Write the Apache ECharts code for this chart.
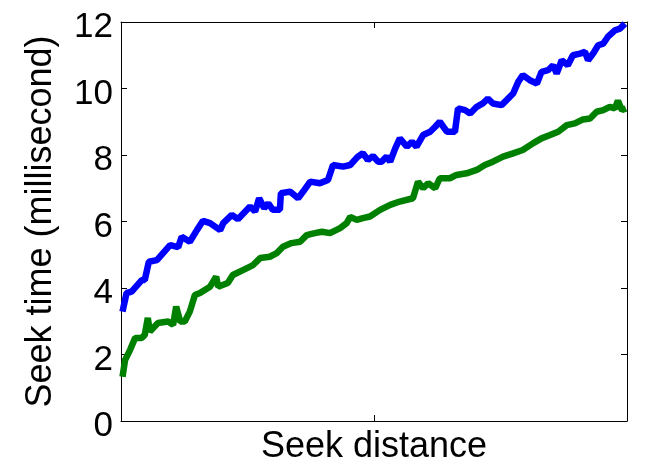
<!DOCTYPE html>
<html>
<head>
<meta charset="utf-8">
<script src="https://cdn.jsdelivr.net/npm/echarts@6/dist/echarts.min.js"></script>
<style>html,body{margin:0;padding:0;background:#fff}#c{width:646px;height:466px}</style>
</head>
<body>
<div id="c"></div>
<script>
// Seek distance (relative, 0-100) and seek time (ms)
var blueDist = [0.3,1.1,2.1,4.1,4.7,5.5,7.1,9.7,11.3,12.0,13.6,15.0,16.2,17.6,19.6,20.2,21.9,23.1,25.5,26.5,27.3,28.3,29.1,30.0,31.4,31.6,33.4,35.0,36.0,37.4,39.3,40.9,41.9,43.9,45.3,46.8,47.8,48.8,49.8,50.8,51.5,52.5,53.2,54.2,55.1,56.5,57.5,58.4,59.7,61.1,62.1,63.0,64.4,66.0,66.6,68.0,69.0,70.3,71.5,72.5,73.5,75.2,76.2,77.5,78.5,79.4,80.8,82.2,83.1,84.4,85.4,86.1,87.1,88.3,89.3,90.7,91.7,92.3,93.3,94.3,95.3,96.2,97.6,98.6,99.6];
var blueTime = [3.29,3.85,3.89,4.24,4.24,4.79,4.84,5.29,5.23,5.54,5.39,5.74,6.02,5.95,5.74,5.95,6.2,6.07,6.45,6.3,6.7,6.4,6.55,6.35,6.35,6.85,6.9,6.7,6.9,7.2,7.15,7.25,7.7,7.65,7.7,7.95,8.05,7.85,7.97,7.8,7.8,7.95,7.8,8.2,8.5,8.25,8.4,8.25,8.6,8.7,8.85,9.0,8.7,8.7,9.4,9.35,9.25,9.45,9.55,9.7,9.55,9.5,9.65,9.85,10.2,10.4,10.25,10.15,10.5,10.55,10.7,10.45,10.85,10.7,11.0,11.05,11.1,10.85,11.05,11.3,11.35,11.55,11.75,11.8,11.95];
var greenDist = [0.3,0.8,1.8,2.8,4.1,4.7,5.3,5.7,7.3,9.3,10.3,10.9,11.7,12.6,13.6,14.6,15.6,17.6,18.8,19.2,21.1,22.1,24.1,26.1,27.5,29.4,30.8,32.0,33.7,35.4,36.7,38.3,39.7,41.3,43.3,44.6,45.3,46.6,47.8,49.2,51.2,53.2,55.1,57.7,58.7,59.7,60.7,62.1,63.0,65.0,66.3,68.3,70.3,71.9,73.5,75.5,77.5,79.4,81.4,83.1,84.8,86.4,88.1,89.7,91.3,92.7,94.0,95.3,96.6,97.6,98.2,99.0,99.8];
var greenTime = [1.33,1.83,2.14,2.5,2.5,2.59,3.1,2.69,2.95,2.99,2.89,3.44,2.99,2.99,3.29,3.79,3.85,4.04,4.34,4.04,4.15,4.39,4.54,4.69,4.9,4.94,5.05,5.24,5.35,5.39,5.59,5.65,5.69,5.65,5.8,5.95,6.14,6.05,6.1,6.15,6.35,6.5,6.6,6.7,7.2,7.0,7.15,7.0,7.3,7.3,7.4,7.45,7.55,7.7,7.8,7.95,8.05,8.15,8.35,8.5,8.6,8.7,8.9,8.95,9.07,9.1,9.3,9.35,9.45,9.4,9.63,9.35,9.4];
var yTicks = [0,2,4,6,8,10,12];

function pairs(xs, ys){ return xs.map(function(x,i){ return [x, ys[i]]; }); }

var font = "'Liberation Sans', Arial, Helvetica, sans-serif";
var chart = echarts.init(document.getElementById('c'));
var lineStyleAxis = {show:true, onZero:false, lineStyle:{color:'#000', width:1}};
var tickIn = {show:true, inside:true, length:6, lineStyle:{color:'#000', width:1}};
chart.setOption({
  animation:false,
  backgroundColor:'#fff',
  grid:{left:121, top:22, width:506, height:399, containLabel:false, outerBoundsMode:'none'},
  xAxis:[
    {type:'value', position:'bottom', min:0, max:100, interval:50,
     axisLine:lineStyleAxis, axisTick:tickIn, axisLabel:{show:false}, splitLine:{show:false},
     name:'Seek distance', nameLocation:'middle', nameGap:8,
     nameTextStyle:{fontFamily:font, fontSize:36, color:'#000', verticalAlign:'top'}},
    {type:'value', position:'top', min:0, max:100, interval:50,
     axisLine:lineStyleAxis, axisTick:tickIn, axisLabel:{show:false}, splitLine:{show:false}}
  ],
  yAxis:[
    {type:'value', position:'left', min:0, max:12, interval:2,
     axisLine:lineStyleAxis, axisTick:tickIn, splitLine:{show:false},
     axisLabel:{show:true, margin:8, fontFamily:font, fontSize:35, color:'#000',
       formatter:function(v){ return yTicks.indexOf(v) >= 0 ? '{a|' + v + '}' : ''; },
       rich:{a:{fontFamily:font, fontSize:35, color:'#000', padding:[11,0,0,0]}}},
     name:'Seek time (millisecond)', nameLocation:'middle', nameGap:62, nameRotate:90,
     nameTextStyle:{fontFamily:font, fontSize:36, color:'#000'}},
    {type:'value', position:'right', min:0, max:12, interval:2,
     axisLine:lineStyleAxis, axisTick:tickIn, axisLabel:{show:false}, splitLine:{show:false}}
  ],
  series:[
    {type:'line', data:pairs(blueDist, blueTime), showSymbol:false, symbol:'none',
     lineStyle:{color:'#0000ff', width:6.5}, itemStyle:{color:'#0000ff'}, z:3},
    {type:'line', data:pairs(greenDist, greenTime), showSymbol:false, symbol:'none',
     lineStyle:{color:'#008000', width:6.5}, itemStyle:{color:'#008000'}, z:2}
  ]
});
</script>
</body>
</html>
